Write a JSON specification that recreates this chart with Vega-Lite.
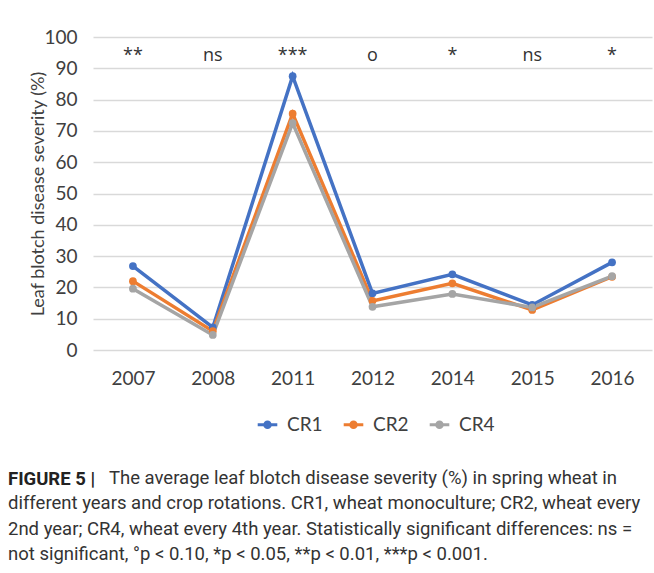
{
  "$schema": "https://vega.github.io/schema/vega-lite/v6.json",
  "width": 559,
  "height": 313,
  "autosize": "none",
  "padding": {"left": 93, "top": 37, "right": 2, "bottom": 223},
  "background": "white",
  "datasets": {
    "severity": [
      {"year": "2007", "rotation": "CR1", "value": 26.8},
      {"year": "2008", "rotation": "CR1", "value": 7.2},
      {"year": "2011", "rotation": "CR1", "value": 87.5},
      {"year": "2012", "rotation": "CR1", "value": 18.1},
      {"year": "2014", "rotation": "CR1", "value": 24.2},
      {"year": "2015", "rotation": "CR1", "value": 14.4},
      {"year": "2016", "rotation": "CR1", "value": 28.0},
      {"year": "2007", "rotation": "CR2", "value": 22.0},
      {"year": "2008", "rotation": "CR2", "value": 6.0},
      {"year": "2011", "rotation": "CR2", "value": 75.5},
      {"year": "2012", "rotation": "CR2", "value": 15.7},
      {"year": "2014", "rotation": "CR2", "value": 21.3},
      {"year": "2015", "rotation": "CR2", "value": 12.8},
      {"year": "2016", "rotation": "CR2", "value": 23.4},
      {"year": "2007", "rotation": "CR4", "value": 19.6},
      {"year": "2008", "rotation": "CR4", "value": 4.8},
      {"year": "2011", "rotation": "CR4", "value": 72.5},
      {"year": "2012", "rotation": "CR4", "value": 13.8},
      {"year": "2014", "rotation": "CR4", "value": 17.9},
      {"year": "2015", "rotation": "CR4", "value": 13.6},
      {"year": "2016", "rotation": "CR4", "value": 23.6}
    ],
    "significance": [
      {"year": "2007", "sig": "**"},
      {"year": "2008", "sig": "ns"},
      {"year": "2011", "sig": "***"},
      {"year": "2012", "sig": "o"},
      {"year": "2014", "sig": "*"},
      {"year": "2015", "sig": "ns"},
      {"year": "2016", "sig": "*"}
    ]
  },
  "title": {
    "text": "FIGURE 5 |",
    "subtitle": [
      "\u200b\u00a0\u00a0\u00a0\u00a0\u00a0\u00a0\u00a0\u00a0\u00a0\u00a0\u00a0\u00a0\u00a0\u00a0\u00a0\u00a0\u00a0\u00a0\u00a0\u00a0\u00a0\u00a0The average leaf blotch disease severity (%) in spring wheat in",
      "different years and crop rotations. CR1, wheat monoculture; CR2, wheat every",
      "2nd year; CR4, wheat every 4th year. Statistically significant differences: ns =",
      "not significant, °p < 0.10, *p < 0.05, **p < 0.01, ***p < 0.001."
    ],
    "orient": "bottom",
    "anchor": "start",
    "frame": "group",
    "dx": -85,
    "offset": 35,
    "font": "Roboto",
    "fontSize": 18.5,
    "fontWeight": "bold",
    "color": "#222222",
    "subtitleFont": "Roboto",
    "subtitleFontSize": 18.5,
    "subtitleColor": "#333333",
    "subtitleLineHeight": 25.5,
    "subtitlePadding": -20
  },
  "config": {
    "view": {"stroke": null},
    "font": "Lato",
    "axisY": {
      "tickCount": 10, "labelOverlap": false,
      "domain": false, "ticks": false, "tickSize": 0,
      "labelFontSize": 19, "labelColor": "#404040", "labelPadding": 16,
      "grid": true, "gridColor": "#d9d9d9", "gridWidth": 1.5,
      "titleFontSize": 18, "titleFontWeight": "normal", "titleColor": "#404040",
      "titlePadding": -4
    }
  },
  "encoding": {
    "x": {
      "field": "year", "type": "ordinal",
      "scale": {"type": "point", "padding": 0.5},
      "axis": {
        "title": null, "domain": false, "ticks": false, "tickSize": 0,
        "labelFontSize": 19, "labelColor": "#404040", "labelPadding": 19,
        "labelAngle": 0, "grid": false
      }
    }
  },
  "layer": [
    {
      "data": {"name": "severity"},
      "mark": {"type": "line", "strokeWidth": 3.5},
      "encoding": {
        "y": {
          "field": "value", "type": "quantitative",
          "scale": {"domain": [0, 100], "nice": false},
          "axis": {"title": "Leaf blotch disease severity (%)", "tickCount": 10}
        },
        "color": {
          "field": "rotation", "type": "nominal",
          "scale": {"domain": ["CR1", "CR2", "CR4"], "range": ["#4472c4", "#ed7d31", "#a5a5a5"]},
          "legend": {
            "title": null, "orient": "none", "direction": "horizontal",
            "legendX": 165, "legendY": 378,
            "labelFontSize": 19, "labelColor": "#404040",
            "symbolType": "M-1.6,0H1.6M-0.45,0A0.45,0.45 0 1,0 0.45,0A0.45,0.45 0 1,0 -0.45,0Z",
            "symbolSize": 150, "symbolStrokeWidth": 3, "columnPadding": 14, "labelOffset": 10
          }
        },
        "order": {"field": "rotation", "sort": "descending"}
      }
    },
    {
      "data": {"name": "severity"},
      "mark": {"type": "point", "filled": true, "size": 60, "opacity": 1},
      "encoding": {
        "y": {"field": "value", "type": "quantitative"},
        "color": {"field": "rotation", "type": "nominal"}
      }
    },
    {
      "data": {"name": "significance"},
      "mark": {"type": "text", "font": "Open Sans", "fontSize": 18, "color": "#333333", "baseline": "middle"},
      "encoding": {
        "y": {"datum": 94, "type": "quantitative"},
        "text": {"field": "sig"}
      }
    }
  ]
}
